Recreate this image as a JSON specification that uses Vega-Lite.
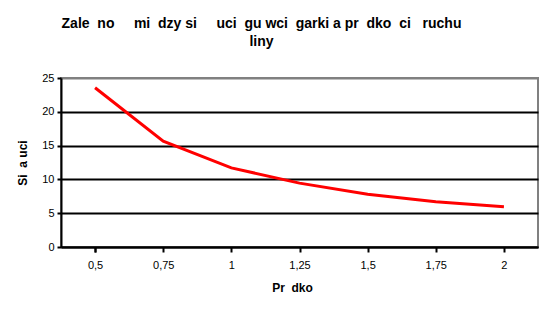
{
  "$schema": "https://vega.github.io/schema/vega-lite/v6.json",
  "width": 477,
  "height": 169,
  "autosize": {"type": "none"},
  "padding": {"left": 61, "top": 78, "right": 12, "bottom": 66},
  "background": "white",
  "title": {
    "text": ["Zale\u00a0\u00a0no\u00a0\u00a0\u00a0\u00a0 mi\u00a0\u00a0dzy si\u00a0\u00a0\u00a0\u00a0 uci\u00a0\u00a0gu wci\u00a0\u00a0garki a pr\u00a0\u00a0dko\u00a0\u00a0ci\u00a0\u00a0 ruchu", "liny"],
    "font": "Liberation Sans",
    "fontSize": 14,
    "fontWeight": "bold",
    "color": "black",
    "anchor": "middle",
    "frame": "group",
    "dx": -38,
    "offset": 23,
    "lineHeight": 18
  },
  "data": {
    "values": [
      {"v": "0,5", "f": 23.55},
      {"v": "0,75", "f": 15.65},
      {"v": "1", "f": 11.7},
      {"v": "1,25", "f": 9.45},
      {"v": "1,5", "f": 7.8},
      {"v": "1,75", "f": 6.7},
      {"v": "2", "f": 5.95}
    ]
  },
  "mark": {"type": "line", "color": "#FF0000", "strokeWidth": 3},
  "encoding": {
    "x": {
      "field": "v",
      "type": "ordinal",
      "sort": null,
      "scale": {"type": "point", "padding": 0.5},
      "axis": {
        "title": "Pr\u00a0\u00a0dko",
        "titleFont": "Liberation Sans",
        "titleFontSize": 12,
        "titleFontWeight": "bold",
        "titleColor": "black",
        "titlePadding": 12,
        "titleX": 231,
        "titleAlign": "center",
        "labelFont": "Liberation Sans",
        "labelFontSize": 11,
        "labelColor": "black",
        "labelAngle": 0,
        "labelPadding": 7,
        "domainColor": "black",
        "domainWidth": 2,
        "tickColor": "black",
        "tickWidth": 2,
        "tickSize": 5,
        "tickBand": "extent",
        "grid": false
      }
    },
    "y": {
      "field": "f",
      "type": "quantitative",
      "scale": {"domain": [0, 25], "nice": false},
      "axis": {
        "values": [0, 5, 10, 15, 20, 25],
        "title": "Si\u00a0\u00a0a uci",
        "titleFont": "Liberation Sans",
        "titleFontSize": 12,
        "titleFontWeight": "bold",
        "titleColor": "black",
        "titlePadding": 12,
        "labelFont": "Liberation Sans",
        "labelFontSize": 11,
        "labelColor": "black",
        "labelPadding": 3,
        "domainColor": "black",
        "domainWidth": 2,
        "tickColor": "black",
        "tickWidth": 2,
        "tickSize": 4,
        "grid": true,
        "gridColor": {"condition": {"test": "datum.value === 25", "value": "#808080"}, "value": "black"},
        "gridWidth": 2,
        "gridOpacity": 1
      }
    }
  },
  "config": {
    "view": {"stroke": "#808080", "strokeWidth": 2}
  }
}
